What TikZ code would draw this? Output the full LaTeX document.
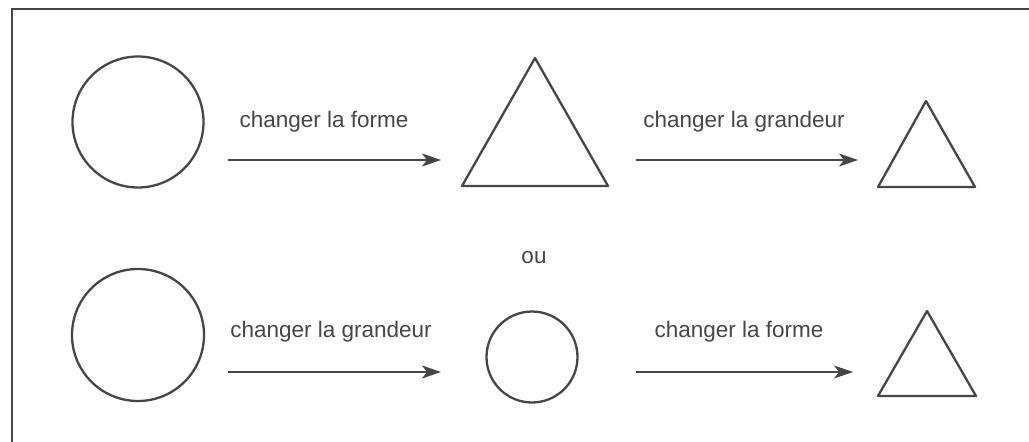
\documentclass[tikz,border=0pt]{standalone}
\usepackage{fontspec}
\setmainfont{Liberation Sans}
\usetikzlibrary{arrows.meta}
\definecolor{ink}{HTML}{464646}
\begin{document}
\begin{tikzpicture}[x=1pt,y=-1pt,
  shape line/.style={draw=ink,line width=2.3pt,line join=round},
  roundshape/.style={shape line,circle,inner sep=0pt},
  flow/.style={draw=ink,line width=1.8pt,-{Stealth[length=19pt,width=13pt,inset=5pt]}},
  lbl/.style={text=ink,font=\fontsize{22.5}{27}\selectfont,anchor=base,inner sep=0pt}]
\useasboundingbox (0,0) rectangle (1029,442);
% frame (top and left edges only)
\draw[draw=ink,line width=2pt] (1029,9) -- (12,9) -- (12,442);
% top row
\node[roundshape,minimum size=131pt] (c1) at (138,122) {};
\draw[shape line] (462,186) coordinate (t1l) -- (535,58) coordinate (t1a) -- (608,186) coordinate (t1r) -- cycle;
\draw[shape line] (878,187) coordinate (t2l) -- (926,101) coordinate (t2a) -- (975,187) coordinate (t2r) -- cycle;
\coordinate (a1s) at (228,160);
\coordinate (a1e) at (441,160);
\coordinate (a2s) at (636,160);
\coordinate (a2e) at (858,160);
\draw[flow] (a1s) -- (a1e);
\draw[flow] (a2s) -- (a2e);
\node[lbl] (l1) at (324,127) {changer la forme};
\node[lbl] (l2) at (744,127) {changer la grandeur};
% ou
\node[lbl] (ou) at (534,263) {ou};
% bottom row
\node[roundshape,minimum size=132pt] (c3) at (138,335) {};
\node[roundshape,minimum size=91pt] (c4) at (532,357) {};
\draw[shape line] (878,396) coordinate (t4l) -- (927,311) coordinate (t4a) -- (976,396) coordinate (t4r) -- cycle;
\coordinate (a3s) at (228,372);
\coordinate (a3e) at (441,372);
\coordinate (a4s) at (636,372);
\coordinate (a4e) at (853,372);
\draw[flow] (a3s) -- (a3e);
\draw[flow] (a4s) -- (a4e);
\node[lbl] (l3) at (331,337) {changer la grandeur};
\node[lbl] (l4) at (739,337) {changer la forme};
\end{tikzpicture}
\end{document}
